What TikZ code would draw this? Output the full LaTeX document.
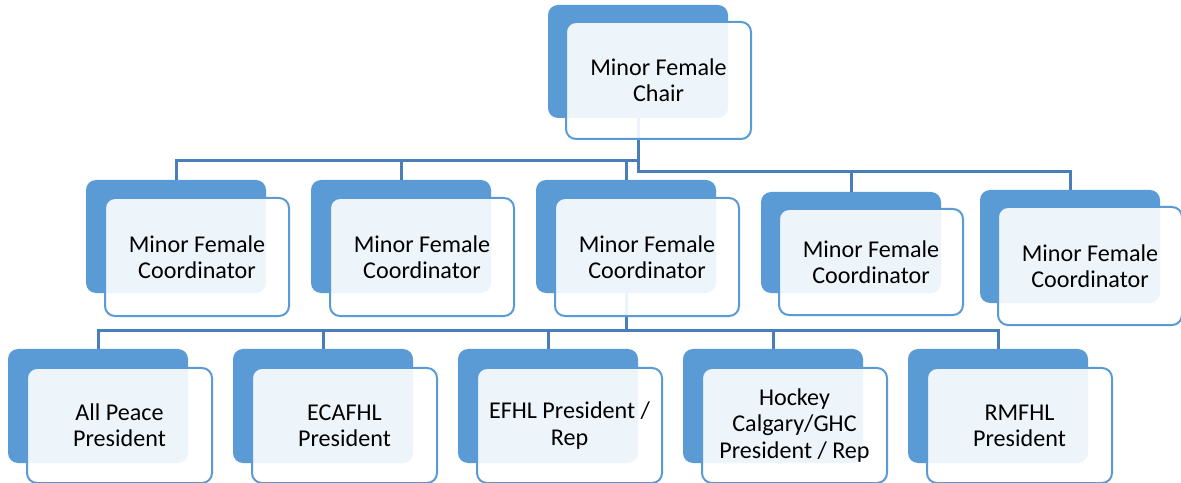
\documentclass[tikz,border=0pt]{standalone}
\usepackage{fontspec}
\setmainfont{Carlito}
\definecolor{boxblue}{HTML}{5B9BD5}
\definecolor{linkblue}{HTML}{4A7EBB}
\begin{document}
\begin{tikzpicture}[x=1bp,y=-1bp,
  backbox/.style={fill=boxblue, rounded corners=10bp, anchor=north west,
    minimum width=180bp, minimum height=113bp, inner sep=0pt, outer sep=0pt},
  frontbox/.style={draw=boxblue, line width=2bp, fill=white, fill opacity=0.9, text opacity=1,
    rounded corners=10bp, anchor=north west, minimum width=184bp, minimum height=118bp,
    inner sep=0pt, outer sep=0pt, align=center, text=black,
    font=\fontsize{24.2}{26.3}\selectfont},
  conn/.style={draw=linkblue, line width=3bp}]
\clip (0,0) rectangle (1181,483);
\fill[white] (0,0) rectangle (1181,483);
% buses
\coordinate (bus1) at (0,161);
\coordinate (bus2) at (0,172);
\coordinate (bus3) at (0,331);
% back boxes
\path
  node[backbox] (chairb) at (548,5) {}
  node[backbox] (c1b) at (86,180) {}
  node[backbox] (c2b) at (311,180) {}
  node[backbox] (c3b) at (536,180) {}
  node[backbox, minimum height=101bp] (c4b) at (761,192) {}
  node[backbox] (c5b) at (980,190) {}
  node[backbox, minimum height=114bp] (p1b) at (8,349) {}
  node[backbox, minimum height=114bp] (p2b) at (233,349) {}
  node[backbox, minimum height=114bp] (p3b) at (458,349) {}
  node[backbox, minimum height=114bp] (p4b) at (683,349) {}
  node[backbox, minimum height=114bp] (p5b) at (908,349) {};
% connectors
\draw[conn] (c1b.north) |- (chairb.south |- bus1);
\draw[conn] (c2b.north) -- (c2b.north |- bus1);
\draw[conn] (c3b.north) -- (c3b.north |- bus1);
\draw[conn] (chairb.south) -- (chairb.south |- bus2) -| (c5b.north);
\draw[conn] (c4b.north) -- (c4b.north |- bus2);
\draw[conn] (c3b.south) -- (c3b.south |- bus3);
\draw[conn] (p1b.north) |- (p5b.north |- bus3) -- (p5b.north);
\draw[conn] (p2b.north) -- (p2b.north |- bus3);
\draw[conn] (p3b.north) -- (p3b.north |- bus3);
\draw[conn] (p4b.north) -- (p4b.north |- bus3);
% front boxes
\node[frontbox, minimum width=185bp, minimum height=117bp] (chair) at (566,22) {Minor Female\\Chair};
\node[frontbox] (c1) at (105,198) {Minor Female\\Coordinator};
\node[frontbox] (c2) at (330,198) {Minor Female\\Coordinator};
\node[frontbox] (c3) at (555,198) {Minor Female\\Coordinator};
\node[frontbox, minimum height=106bp] (c4) at (779,209) {Minor Female\\Coordinator};
\node[frontbox] (c5) at (998,207) {Minor Female\\Coordinator};
\node[frontbox, minimum width=185bp, minimum height=115bp] (p1) at (27,368) {All Peace\\President};
\node[frontbox, minimum width=185bp, minimum height=115bp] (p2) at (252,368) {ECAFHL\\President};
\node[frontbox, minimum width=185bp, minimum height=115bp] (p3) at (477,368) {EFHL President /\\Rep};
\node[frontbox, minimum width=185bp, minimum height=115bp] (p4) at (702,368) {Hockey\\Calgary/GHC\\President / Rep};
\node[frontbox, minimum width=185bp, minimum height=115bp] (p5) at (927,368) {RMFHL\\President};
\end{tikzpicture}
\end{document}
